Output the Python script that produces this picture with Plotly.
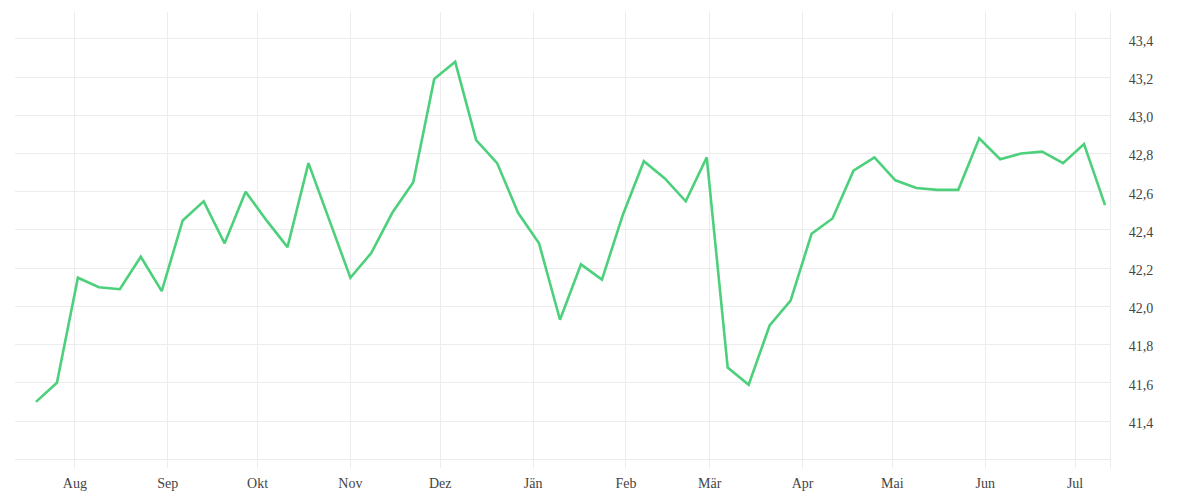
import pandas as pd
import plotly.graph_objects as go

dates = pd.date_range("2024-07-19", periods=52, freq="7D").strftime("%Y-%m-%d").tolist()
values = [41.50, 41.60, 42.15, 42.10, 42.09, 42.26, 42.08, 42.45, 42.55, 42.33,
          42.60, 42.45, 42.31, 42.75, 42.45, 42.15, 42.28, 42.49, 42.65, 43.19,
          43.28, 42.87, 42.75, 42.49, 42.33, 41.93, 42.22, 42.14, 42.48, 42.76,
          42.67, 42.55, 42.78, 41.68, 41.59, 41.90, 42.03, 42.38, 42.46, 42.71,
          42.78, 42.66, 42.62, 42.61, 42.61, 42.88, 42.77, 42.80, 42.81, 42.75,
          42.85, 42.53]

month_ticks = ["2024-08-01", "2024-09-01", "2024-10-01", "2024-11-01", "2024-12-01",
               "2025-01-01", "2025-02-01", "2025-03-01", "2025-04-01", "2025-05-01",
               "2025-06-01", "2025-07-01"]
month_labels = ["Aug", "Sep", "Okt", "Nov", "Dez", "Jän", "Feb", "Mär", "Apr", "Mai", "Jun", "Jul"]

y_ticks = [41.2, 41.4, 41.6, 41.8, 42.0, 42.2, 42.4, 42.6, 42.8, 43.0, 43.2, 43.4]
y_labels = [""] + ["41,4", "41,6", "41,8", "42,0", "42,2", "42,4", "42,6", "42,8", "43,0", "43,2", "43,4"]

fig = go.Figure()
fig.add_trace(go.Scatter(x=dates, y=values, mode="lines",
                         line=dict(color="#4dd07b", width=2.6), hoverinfo="x+y"))

grid = "#ececec"
fig.update_layout(
    width=1200, height=500,
    margin=dict(l=7, r=98, t=4, b=40),
    paper_bgcolor="white", plot_bgcolor="white",
    showlegend=False,
    separators=",.",
    font=dict(family="Liberation Serif", size=14, color="#444444"),
)
fig.update_xaxes(
    type="date",
    range=["2024-07-12", "2025-07-12 16:00"],
    tickvals=month_ticks, ticktext=month_labels,
    showgrid=True, gridcolor=grid, gridwidth=1,
    zeroline=False, showline=False, ticks="",
    ticklabelstandoff=5,
    tickfont=dict(size=14, color="#444444"),
)
fig.update_yaxes(
    side="right",
    range=[41.154, 43.541],
    tickvals=y_ticks, ticktext=y_labels,
    showgrid=True, gridcolor=grid, gridwidth=1,
    zeroline=False, showline=True, linecolor=grid, linewidth=1,
    ticks="", ticklabelstandoff=15, ticklabelshift=2,
    tickfont=dict(size=14, color="#444444"),
)

fig.write_html("out.html")
